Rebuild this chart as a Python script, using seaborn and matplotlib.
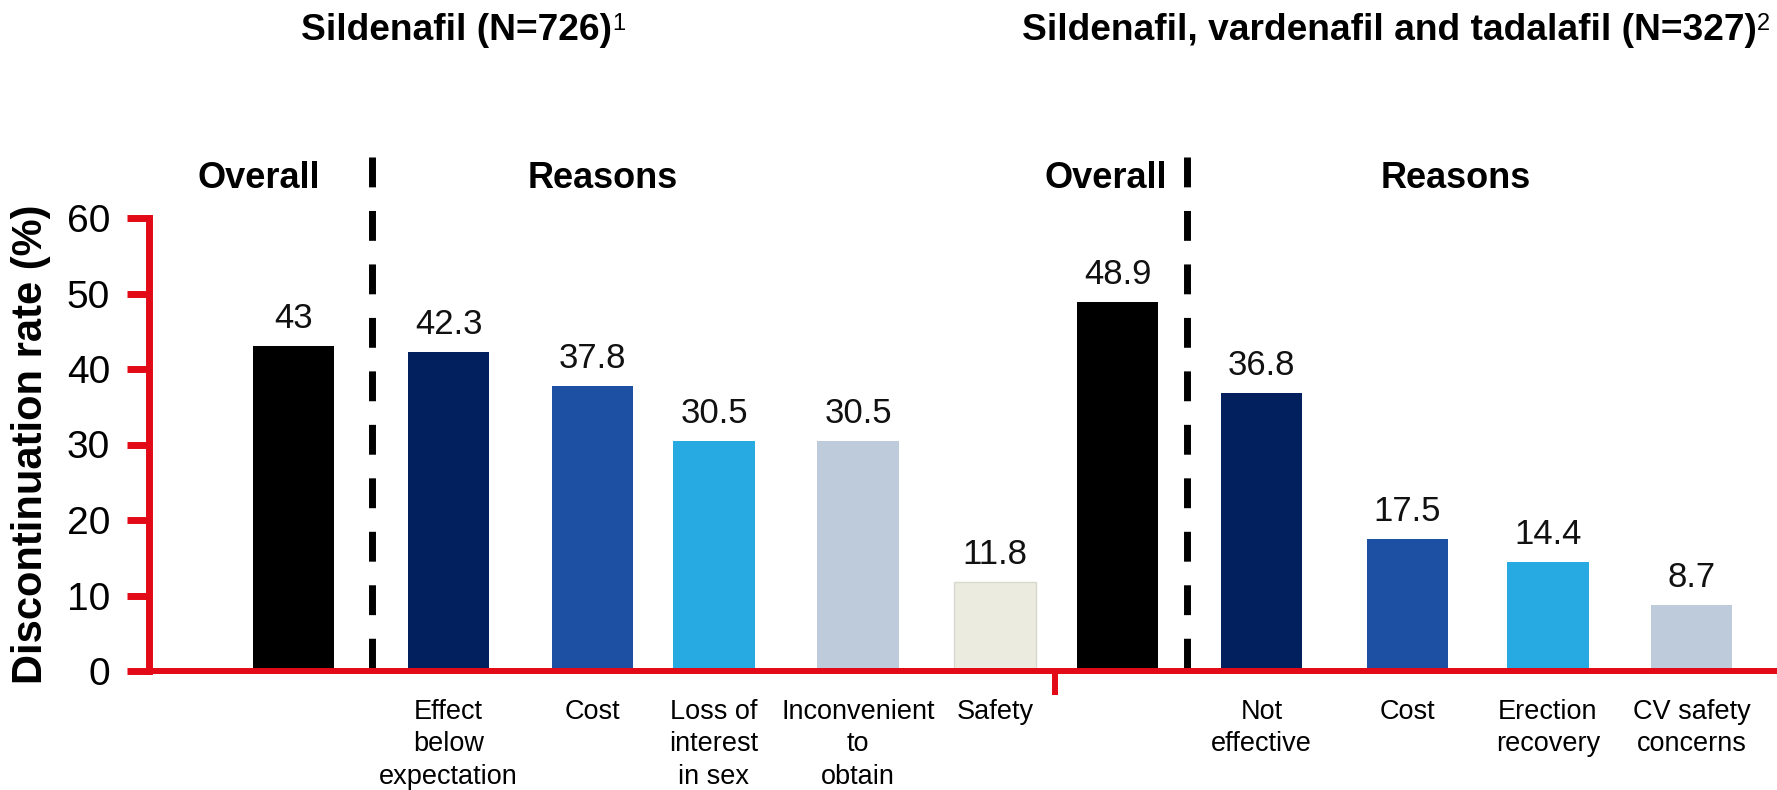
import pandas as pd
import matplotlib.pyplot as plt
import seaborn as sns

# data
groups = ['Sildenafil (N=726)', 'Sildenafil, vardenafil and tadalafil (N=327)']
footnotes = ['1', '2']
categories = ['', 'Effect\nbelow\nexpectation', 'Cost', 'Loss of\ninterest\nin sex',
              'Inconvenient\nto\nobtain', 'Safety',
              '', 'Not\neffective', 'Cost', 'Erection\nrecovery', 'CV safety\nconcerns']
values = [43, 42.3, 37.8, 30.5, 30.5, 11.8, 48.9, 36.8, 17.5, 14.4, 8.7]
colors = ['#000000', '#02205E', '#1D50A2', '#27AAE1', '#BECBDB', '#ECEBE0',
          '#000000', '#02205E', '#1D50A2', '#27AAE1', '#BECBDB']

# layout (x in px from the y spine)
centers = [144.5, 299.5, 443.5, 565, 709, 846, 968.5, 1112.5, 1258.5, 1399, 1542.5]
bar_w = 81.5
dividers = [223, 1038]
RED = '#E20A16'

sns.set_style('white')
plt.rcParams['font.family'] = ['Liberation Sans', 'DejaVu Sans']
plt.rcParams['text.color'] = 'black'
plt.rcParams['xtick.labelcolor'] = 'black'
plt.rcParams['ytick.labelcolor'] = 'black'

fig = plt.figure(figsize=(17.77, 7.9), dpi=100)
ax = fig.add_axes([149 / 1777, 119 / 790, 1628 / 1777, 453 / 790])

df = pd.DataFrame({'pos': centers, 'value': values, 'bar': [str(i) for i in range(len(values))]})
sns.barplot(data=df, x='pos', y='value', hue='bar', palette=dict(zip(df['bar'], colors)),
            native_scale=True, dodge=False, legend=False, ax=ax, linewidth=0, saturation=1)

for p in ax.patches:
    c = p.get_x() + p.get_width() / 2
    p.set_x(c - bar_w / 2)
    p.set_width(bar_w)
    if p.get_facecolor()[:3] == plt.matplotlib.colors.to_rgb('#ECEBE0'):
        p.set_edgecolor('#D8D8CE')
        p.set_linewidth(1)

ax.set_xlim(0, 1628)
ax.set_ylim(0, 60)

# value labels
for x, v in zip(centers, values):
    ax.annotate(f'{v:g}', xy=(x, v), xytext=(0, 13), textcoords='offset points',
                ha='center', va='baseline', fontsize=25, color='#111111')

# dashed dividers
for x in dividers:
    ax.plot([x, x], [68.1, 0], color='black', lw=5, dashes=(4.3, 3.4), clip_on=False,
            solid_capstyle='butt', dash_capstyle='butt')

# spines / ticks
for s in ['top', 'right']:
    ax.spines[s].set_visible(False)
ax.spines['left'].set_color(RED)
ax.spines['left'].set_linewidth(5)
ax.spines['bottom'].set_color(RED)
ax.spines['bottom'].set_linewidth(4.3)
ax.set_yticks(range(0, 61, 10))
ax.tick_params(axis='y', direction='out', length=16, width=5, color=RED, labelsize=28,
               pad=12, left=True)
ax.set_xticks([905.5])
ax.set_xticks(centers, minor=True)
ax.set_xticklabels(categories, minor=True, fontsize=19.5, linespacing=1.32)
ax.tick_params(axis='x', which='major', direction='out', length=17, width=4.3, color=RED,
               labelbottom=False, bottom=True)
ax.tick_params(axis='x', which='minor', length=0, pad=20, bottom=True)
ax.set_xlabel('')
ax.set_ylabel('')
ax.grid(False)

ax.text(-0.0725, 0.5, 'Discontinuation rate (%)', rotation=90, ha='center', va='center',
        fontsize=30, fontweight='bold', transform=ax.transAxes)

# section headers
for x, txt in [(110, 'Overall'), (454, 'Reasons'), (957, 'Overall'), (1307, 'Reasons')]:
    ax.text(x, 64.0, txt, ha='center', va='baseline', fontsize=26, fontweight='bold',
            clip_on=False)

# group titles with superscripts
for x0, title, note in zip([301 / 1777, 1022 / 1777], groups, footnotes):
    t = fig.text(x0, 1 - 40 / 790, title, ha='left', va='baseline', fontsize=26.7,
                 fontweight='bold')
    ax.annotate(note, xy=(1.0, 1.0), xycoords=t, ha='left', va='top', fontsize=17,
                annotation_clip=False)

fig.savefig('out.png', dpi=100)
